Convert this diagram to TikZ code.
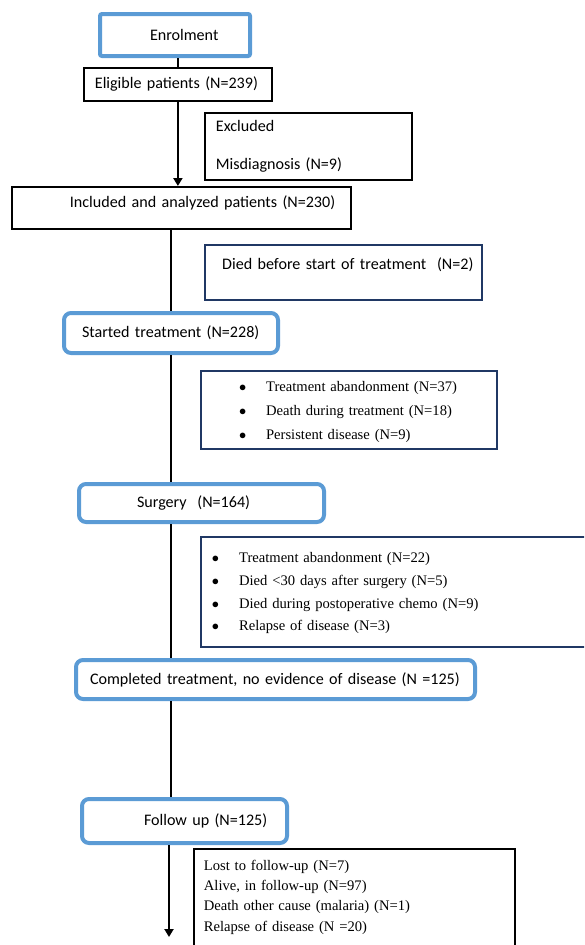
\documentclass[tikz,border=0pt]{standalone}
\usepackage{fontspec}
\setmainfont{Carlito}
\newfontfamily\listfont{Liberation Serif}
\usetikzlibrary{arrows.meta}
\definecolor{flowblue}{RGB}{91,155,213}
\definecolor{flownavy}{RGB}{32,56,100}

\begin{document}
\begin{tikzpicture}[x=1pt,y=-1pt,font=\fontsize{16.1}{19.3}\selectfont]
    \tikzstyle{box}=[anchor=north west,inner sep=0,align=left,fill=white]
    \tikzstyle{blue box}=[box,draw=flowblue,line width=4pt,rounded corners=7pt]
    \tikzstyle{black box}=[box,draw=black,line width=1.8pt]
    \tikzstyle{navy box}=[box,draw=flownavy,line width=2.4pt]
    \tikzstyle{list}=[font=\listfont\fontsize{14.6}{20.3}\selectfont]
    \tikzstyle{link}=[line width=2pt]
    \tikzstyle{arrow link}=[link,-{Triangle[length=8pt,width=9pt]}]

    \useasboundingbox (0,0) rectangle (584,945);
    \clip (0,0) rectangle (584,945);

    \coordinate (spine) at (171,0);
    \coordinate (end) at (169,937);

    \node(enrol)[blue box,rounded corners=2pt,text width=150pt,minimum height=42pt] at (98,12) {\hspace*{50pt}Enrolment};
    \node(elig)[black box,text width=188pt,minimum height=33pt] at (83,67) {\hspace*{11pt}Eligible patients (N=239)};
    \node(excl)[black box,inner xsep=11pt,text width=185pt,minimum height=67pt] at (204,112) {Excluded\\[18.5pt]Misdiagnosis (N=9)};
    \node(incl)[black box,text width=339pt,minimum height=42pt,text depth=12pt] at (11,186) {\hspace*{58pt}Included and analyzed patients (N=230)};
    \node(died)[navy box,text width=277pt,minimum height=55pt,text depth=19pt] at (204,244) {\hspace*{17pt}Died before start of treatment\ \ (N=2)};
    \node(start)[blue box,text width=214pt,minimum height=40pt] at (62,311) {\hspace*{18pt}Started treatment (N=228)};
    \node(treat)[navy box,list,text width=296pt,minimum height=78pt] at (200,370) {%
        {\fontsize{14.6}{24}\selectfont
        \begin{tabular}{@{\hspace*{38pt}}l@{\hspace{19.7pt}}l@{}}
            $\bullet$ & Treatment abandonment (N=37) \\
            $\bullet$ & Death during treatment (N=18) \\
            $\bullet$ & Persistent disease (N=9)
        \end{tabular}}};
    \node(surg)[blue box,text width=245pt,minimum height=38pt] at (77,482) {\hspace*{58pt}Surgery\ \ (N=164)};
    \node(post)[navy box,list,text width=400pt,minimum height=110pt] at (200,536) {%
        {\fontsize{14.6}{22.7}\selectfont
        \begin{tabular}{@{\hspace*{10.7pt}}l@{\hspace{20pt}}l@{}}
            $\bullet$ & Treatment abandonment (N=22) \\
            $\bullet$ & Died \textless30 days after surgery (N=5) \\
            $\bullet$ & Died during postoperative chemo (N=9) \\
            $\bullet$ & Relapse of disease (N=3)
        \end{tabular}}};
    \node(compl)[blue box,text width=399pt,minimum height=39pt] at (74,658) {\hspace*{14pt}Completed treatment, no evidence of disease (N =125)};
    \node(follow)[blue box,text width=205pt,minimum height=44pt] at (80,797) {\hspace*{62pt}Follow up (N=125)};
    \node(outcome)[black box,list,inner xsep=10pt,inner ysep=11pt,text width=301pt] at (193,848) {Lost to follow-up (N=7)\\
        Alive, in follow-up (N=97)\\
        Death other cause (malaria) (N=1)\\
        Relapse of disease (N =20)\\[10pt]\mbox{}};

    \draw[link] (elig.north) -- (elig.north |- enrol.south);
    \draw[arrow link] (elig.south) -- (incl.north -| elig.south);
    \draw[link] (incl.south -| spine) -- (start.north -| spine);
    \draw[link] (start.south -| spine) -- (surg.north -| spine);
    \draw[link] (surg.south -| spine) -- (compl.north -| spine);
    \draw[link] (compl.south -| spine) -- (follow.north -| spine);
    \draw[arrow link] (follow.south -| end) -- (end);
\end{tikzpicture}
\end{document}
